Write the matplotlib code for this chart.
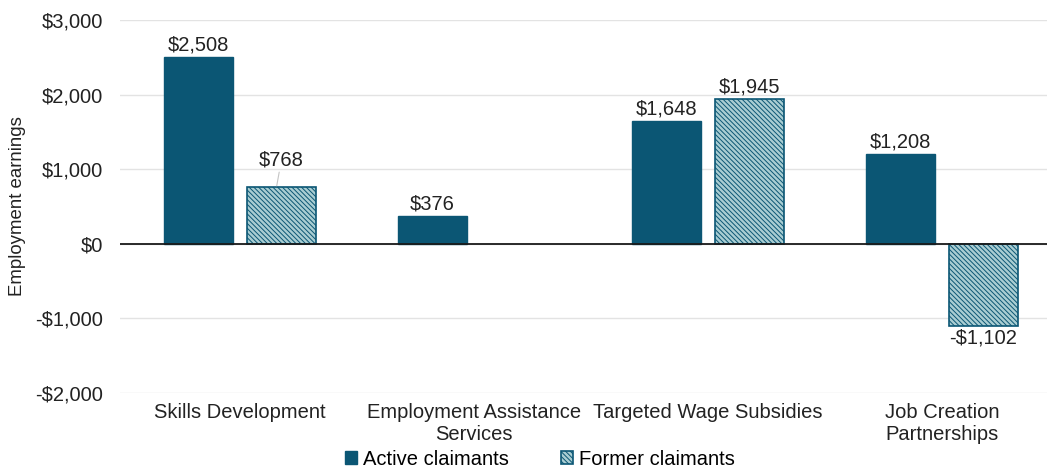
import matplotlib
matplotlib.use("Agg")
import matplotlib.pyplot as plt
import numpy as np

categories = ["Skills Development", "Employment Assistance\nServices",
              "Targeted Wage Subsidies", "Job Creation\nPartnerships"]
active = [2508, 376, 1648, 1208]
former = [768, np.nan, 1945, -1102]
series_names = ["Active claimants", "Former claimants"]
yticks = [-2000, -1000, 0, 1000, 2000, 3000]

dark = "#0b5674"
light = "#a9cdd2"
txt = "#222222"
fs = 14.5

plt.rcParams["font.family"] = ["Liberation Sans", "DejaVu Sans"]
plt.rcParams["hatch.linewidth"] = 0.7
plt.rcParams["hatch.color"] = "#3f7d8c"

fig = plt.figure(figsize=(10.47, 4.69), dpi=100)
ax = fig.add_axes([120 / 1047, 1 - 393 / 469, (1047 - 120) / 1047, (393 - 20) / 469])

x = np.arange(len(categories))
off = 0.177
w = 0.295
b1 = ax.bar(x - off, active, w, color=dark, edgecolor=dark, linewidth=1, zorder=3,
            label=series_names[0])
b2 = ax.bar(x + off, former, w, color=light, edgecolor=dark, linewidth=1.2,
            hatch="\\\\\\\\\\\\\\", zorder=3, label=series_names[1])

def fmt(v):
    return f"-${abs(v):,.0f}" if v < 0 else f"${v:,.0f}"

for xi, v in zip(x - off, active):
    ax.text(xi, v + 30, fmt(v), ha="center", va="bottom", fontsize=fs, color=txt)
for xi, v in zip(x + off, former):
    if np.isnan(v):
        continue
    if v < 0:
        ax.text(xi, v - 40, fmt(v), ha="center", va="top", fontsize=fs, color=txt)
    elif v < 1000:
        ax.annotate(fmt(v), xy=(xi - 0.02, v + 10), xytext=(xi, v + 230),
                    ha="center", va="bottom", fontsize=fs, color=txt,
                    arrowprops=dict(arrowstyle="-", color="#c4c4c4", lw=0.8,
                                    shrinkA=0, shrinkB=0))
    else:
        ax.text(xi, v + 30, fmt(v), ha="center", va="bottom", fontsize=fs, color=txt)

ax.set_xlim((120 - 240) / 234, (1047 - 240) / 234)
ax.set_ylim(-2000, 3000)
ax.set_yticks(yticks)
ax.set_yticklabels([fmt(t) for t in yticks], fontsize=fs, color=txt)
ax.set_xticks(x)
ax.set_xticklabels(categories, fontsize=fs, color=txt, linespacing=1.2, va="top")
ax.tick_params(axis="both", length=0)
ax.tick_params(axis="x", pad=7)
ax.tick_params(axis="y", pad=12)
ax.grid(axis="y", color="#e3e3e3", linewidth=1, zorder=0)
ax.axhline(0, color="#1a1a1a", linewidth=1.3, zorder=4)
for s in ax.spines.values():
    s.set_visible(False)
ax.set_ylabel("Employment earnings", fontsize=13.4, color=txt)
ax.yaxis.set_label_coords(-94 / 927, 0.5)

fig.legend(handles=[b1, b2], labels=series_names, loc="center",
           bbox_to_anchor=(540 / 1047, 1 - 459 / 469), ncol=2, frameon=False,
           fontsize=fs, handlelength=0.6, handleheight=0.6, handletextpad=0.3,
           columnspacing=2.6, borderpad=0)

fig.savefig("out.png", dpi=100)
